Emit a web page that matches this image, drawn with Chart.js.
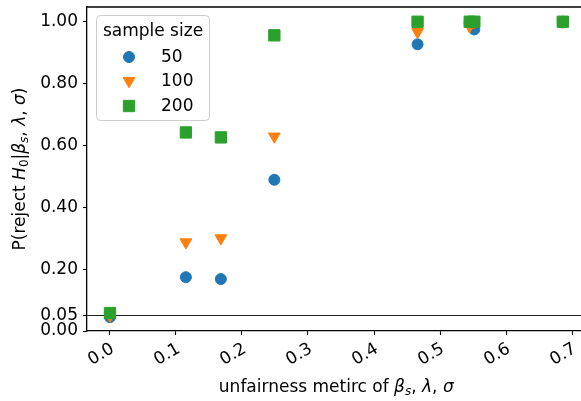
<!DOCTYPE html>
<html>
<head>
<meta charset="utf-8">
<script src="https://cdn.jsdelivr.net/npm/chart.js@4/dist/chart.umd.min.js"></script>
<style>
  html, body { margin: 0; padding: 0; background: #fff; }
  #wrap { width: 581px; height: 401px; }
</style>
</head>
<body>
<div id="wrap"><canvas id="chart" width="581" height="401"></canvas></div>
<script>
// data
const unfairness = [0.0, 0.115, 0.168, 0.249, 0.466, 0.545, 0.552, 0.686];
const reject50  = [0.045, 0.174, 0.168, 0.489, 0.927, 1.0, 0.975, 1.0];
const reject100 = [0.05, 0.287, 0.30, 0.629, 0.967, 0.985, 1.0, 1.0];
const reject200 = [0.058, 0.642, 0.626, 0.956, 1.0, 1.0, 1.0, 1.0];
const sampleSizes = ["50", "100", "200"];
const xTicks = [0.0, 0.1, 0.2, 0.3, 0.4, 0.5, 0.6, 0.7];
const yTicks = [0.0, 0.05, 0.2, 0.4, 0.6, 0.8, 1.0];
const alpha = 0.05;

const FONT = "DejaVu Sans";
const pts = ys => unfairness.map((x, i) => ({ x: x, y: ys[i] }));

// rich text: [text, italic, subscript]
const yLabel = [["P(reject ", 0, 0], ["H", 1, 0], ["0", 0, 1], ["|", 0, 0], ["β", 1, 0], ["s", 1, 1],
                [", ", 0, 0], ["λ", 1, 0], [", ", 0, 0], ["σ", 1, 0], [")", 0, 0]];
const xLabel = [["unfairness metirc of ", 0, 0], ["β", 1, 0], ["s", 1, 1], [", ", 0, 0], ["λ", 1, 0],
                [", ", 0, 0], ["σ", 1, 0]];

function segFont(s) {
    return (s[1] ? "italic " : "") + (s[2] ? "12px " : "17px ") + FONT;
}
function drawRich(ctx, segs, cx, cy, rot) {
    ctx.save();
    ctx.translate(cx, cy);
    ctx.rotate(rot);
    let w = 0;
    segs.forEach(s => { ctx.font = segFont(s); w += ctx.measureText(s[0]).width; });
    let x = -w / 2;
    ctx.fillStyle = "#000";
    ctx.textBaseline = "alphabetic";
    ctx.textAlign = "left";
    segs.forEach(s => {
        ctx.font = segFont(s);
        ctx.fillText(s[0], x, s[2] ? 9 : 6);
        x += ctx.measureText(s[0]).width;
    });
    ctx.restore();
}

function drawMarker(ctx, ds, x, y) {
    ctx.save();
    ctx.fillStyle = ds.backgroundColor;
    ctx.strokeStyle = ds.borderColor;
    ctx.lineWidth = 1;
    Chart.helpers.drawPoint(ctx, {
        pointStyle: ds.pointStyle,
        radius: ds.pointRadius,
        rotation: ds.rotation || 0,
        borderWidth: 1
    }, x, y);
    ctx.restore();
}

const decorations = {
    id: "decorations",
    afterDatasetsDraw(chart) {
        const ctx = chart.ctx;
        const a = chart.chartArea;
        // top spine
        ctx.save();
        ctx.strokeStyle = "#000";
        ctx.lineWidth = 1.3;
        ctx.beginPath();
        ctx.moveTo(a.left, a.top);
        ctx.lineTo(a.right, a.top);
        ctx.stroke();
        ctx.restore();

        // legend box
        const bx = 96, by = 15, bw = 113, bh = 105;
        ctx.save();
        ctx.fillStyle = "rgba(255,255,255,0.85)";
        ctx.strokeStyle = "#cccccc";
        ctx.lineWidth = 1;
        ctx.beginPath();
        ctx.roundRect(bx + 0.5, by + 0.5, bw, bh, 4);
        ctx.fill();
        ctx.stroke();
        ctx.fillStyle = "#000";
        ctx.font = "17px " + FONT;
        ctx.textBaseline = "middle";
        ctx.textAlign = "center";
        ctx.fillText("sample size", bx + bw / 2 + 0.5, 32);
        ctx.textAlign = "left";
        const rows = [57, 81, 106];
        [0, 1, 2].forEach((i, k) => {
            const ds = chart.data.datasets[i];
            drawMarker(ctx, ds, 129, rows[k]);
            ctx.fillStyle = "#000";
            ctx.fillText(ds.label, 161, rows[k] + 1);
        });
        ctx.restore();

        // axis titles
        const xs = chart.scales.x;
        const xCenter = (a.left + xs.getPixelForValue(0.7204)) / 2;
        drawRich(ctx, xLabel, xCenter, 386, 0);
        drawRich(ctx, yLabel, 19, (a.top + a.bottom) / 2, -Math.PI / 2);
    }
};

new Chart(document.getElementById("chart"), {
    type: "scatter",
    data: {
        datasets: [
            {
                label: sampleSizes[0],
                data: pts(reject50),
                pointStyle: "circle",
                pointRadius: 5.5,
                pointHoverRadius: 5.5,
                backgroundColor: "#1f77b4",
                borderColor: "#1f77b4",
                borderWidth: 1,
                order: 3
            },
            {
                label: sampleSizes[1],
                data: pts(reject100),
                pointStyle: "triangle",
                rotation: 180,
                pointRadius: 6.8,
                pointHoverRadius: 6.8,
                backgroundColor: "#ff7f0e",
                borderColor: "#ff7f0e",
                borderWidth: 1,
                order: 2
            },
            {
                label: sampleSizes[2],
                data: pts(reject200),
                pointStyle: "rect",
                pointRadius: 8,
                pointHoverRadius: 8,
                backgroundColor: "#2ca02c",
                borderColor: "#2ca02c",
                borderWidth: 1,
                order: 1
            }
        ]
    },
    options: {
        responsive: false,
        animation: false,
        events: [],
        layout: { autoPadding: false, padding: { top: 7, right: 0, left: 0, bottom: 0 } },
        plugins: {
            legend: { display: false },
            tooltip: { enabled: false }
        },
        scales: {
            x: {
                type: "linear",
                min: -0.0348,
                max: 0.7136,
                border: { display: true, color: "#000", width: 1.3 },
                grid: { drawOnChartArea: false, tickLength: 4, tickColor: "#000", tickWidth: 1.1 },
                afterBuildTicks: s => { s.ticks = xTicks.map(v => ({ value: v })); },
                afterFit: s => { s.height = 70; s.paddingLeft = 0; s.paddingRight = 0; },
                ticks: {
                    minRotation: 30,
                    maxRotation: 30,
                    padding: 4,
                    labelOffset: 3,
                    color: "#000",
                    font: { family: FONT, size: 17 },
                    callback: v => v.toFixed(1)
                }
            },
            y: {
                type: "linear",
                min: 0,
                max: 1.0476,
                border: { display: true, color: "#000", width: 1.3 },
                grid: {
                    drawOnChartArea: true,
                    tickLength: 4,
                    tickColor: "#000",
                    tickWidth: 1.1,
                    color: c => (c.tick && c.tick.value === alpha) ? "#222" : "rgba(0,0,0,0)",
                    lineWidth: 1
                },
                afterBuildTicks: s => { s.ticks = yTicks.map(v => ({ value: v })); },
                afterFit: s => { s.width = 87; s.paddingTop = 0; s.paddingBottom = 0; },
                ticks: {
                    padding: 5,
                    color: "#000",
                    autoSkip: false,
                    font: { family: FONT, size: 17 },
                    callback: v => v.toFixed(2)
                }
            }
        }
    },
    plugins: [decorations]
});
</script>
</body>
</html>
